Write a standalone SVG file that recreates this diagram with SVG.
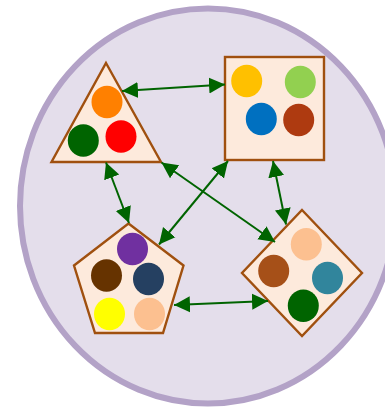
<svg xmlns="http://www.w3.org/2000/svg" width="385" height="407" viewBox="0 0 385 407">
<style>
.shape{fill:#fdeadc;stroke:#a0500f;stroke-width:2.4;stroke-linejoin:miter}
#connectors line{stroke:#006400;stroke-width:2;marker-start:url(#arrow);marker-end:url(#arrow)}
ellipse.dot{stroke:none}
</style>
<defs>
<marker id="arrow" markerUnits="userSpaceOnUse" markerWidth="18" markerHeight="18" refX="16" refY="9" orient="auto-start-reverse">
<path d="M0,1 L16,9 L0,17 z" fill="#006400"/>
</marker>
</defs>
<rect width="385" height="407" fill="#ffffff"/>
<ellipse id="boundary" cx="208" cy="206" rx="188" ry="197.5" fill="#e4deeb" stroke="#b3a2c7" stroke-width="6"/>
<g id="triangle">
<polygon class="shape" points="106,63 161,162 51.5,162"/>
<ellipse class="dot" cx="107" cy="102" rx="15.5" ry="16.3" fill="#ff8000"/>
<ellipse class="dot" cx="83.3" cy="140.5" rx="15.5" ry="16.3" fill="#006400"/>
<ellipse class="dot" cx="121" cy="136.5" rx="15.5" ry="16.3" fill="#ff0000"/>
</g>
<g id="square">
<rect class="shape" x="225" y="57" width="99" height="103"/>
<ellipse class="dot" cx="246.7" cy="81" rx="15.5" ry="16.3" fill="#ffc000"/>
<ellipse class="dot" cx="300.3" cy="82" rx="15.5" ry="16.3" fill="#92d050"/>
<ellipse class="dot" cx="261.3" cy="119" rx="15.5" ry="16.3" fill="#0070c0"/>
<ellipse class="dot" cx="298.7" cy="120" rx="15.5" ry="16.3" fill="#ae3a10"/>
</g>
<g id="pentagon">
<polygon class="shape" points="128.5,223.5 183.5,265.5 163,333 95,333 74,265.5"/>
<ellipse class="dot" cx="132.5" cy="249" rx="15.5" ry="16.3" fill="#7030a0"/>
<ellipse class="dot" cx="106.5" cy="275.5" rx="15.5" ry="16.3" fill="#663300"/>
<ellipse class="dot" cx="148.5" cy="279" rx="15.5" ry="16.3" fill="#254061"/>
<ellipse class="dot" cx="109.5" cy="314" rx="15.5" ry="16.3" fill="#ffff00"/>
<ellipse class="dot" cx="149.5" cy="314" rx="15.5" ry="16.3" fill="#fcc090"/>
</g>
<g id="diamond">
<polygon class="shape" points="302,210 362,273 302,336 242,273"/>
<ellipse class="dot" cx="306.3" cy="244.3" rx="15.5" ry="16.3" fill="#fcc090"/>
<ellipse class="dot" cx="327.5" cy="278" rx="15.5" ry="16.3" fill="#31859c"/>
<ellipse class="dot" cx="273.7" cy="271" rx="15.5" ry="16.3" fill="#a65018"/>
<ellipse class="dot" cx="303.3" cy="305.7" rx="15.5" ry="16.3" fill="#006400"/>
</g>
<g id="connectors">
<line x1="122" y1="91" x2="225" y2="84.5"/>
<line x1="106" y1="162.5" x2="129" y2="223"/>
<line x1="161.5" y1="162.5" x2="275" y2="242"/>
<line x1="228" y1="161" x2="159" y2="244.5"/>
<line x1="273" y1="161" x2="286" y2="224.5"/>
<line x1="174" y1="305" x2="268" y2="301"/>
</g>
</svg>
